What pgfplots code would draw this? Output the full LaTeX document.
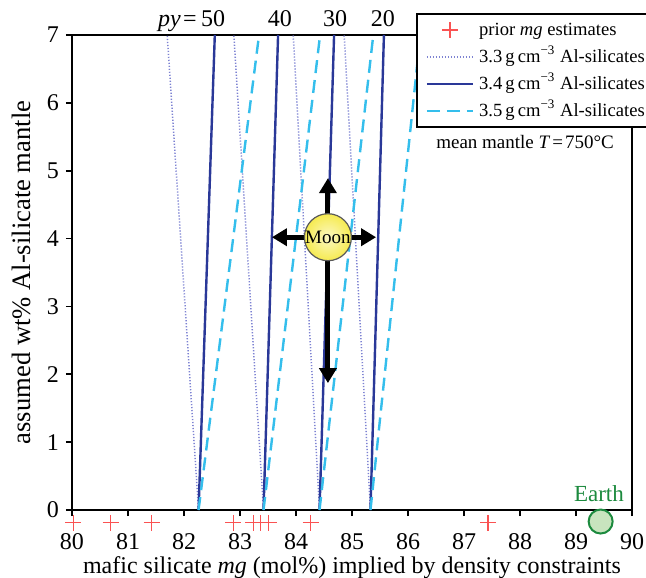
\documentclass[border=0pt]{standalone}
\usepackage{fontspec}
\setmainfont{Liberation Serif}
\usepackage{pgfplots}
\pgfplotsset{compat=1.18}
\usetikzlibrary{arrows.meta}

\definecolor{dotblue}{RGB}{125,130,210}
\definecolor{midblue}{RGB}{42,56,152}
\definecolor{dashcyan}{RGB}{52,190,236}
\definecolor{priorred}{RGB}{250,82,82}
\definecolor{earthgreen}{RGB}{28,138,62}
\definecolor{earthfill}{RGB}{200,228,190}
\definecolor{moonyellow}{RGB}{242,226,8}

\pgfdeclareradialshading{moonball}{\pgfpoint{0bp}{0bp}}{%
  color(0bp)=(white!75!moonyellow);
  color(14bp)=(moonyellow!50!white);
  color(34bp)=(moonyellow!88!white);
  color(50bp)=(moonyellow)}

% legend samples: a 23pt line, or a single mark in its middle
\pgfplotsset{
  lineimg/.style={legend image code/.code={%
    \draw[##1] (0pt,0pt) -- (23pt,0pt); \path (24pt,0pt);}},
  markimg/.style={legend image code/.code={%
    \draw[##1, mark repeat=2, mark phase=2] plot coordinates {(0pt,0pt) (11.5pt,0pt) (23pt,0pt)};
    \path (24pt,0pt);}},
}

\begin{document}
\begin{tikzpicture}
\path[use as bounding box] (-36pt,-33.5pt) rectangle (287pt,255pt);
\begin{axis}[
  at={(0,0)}, anchor=south west,
  scale only axis, width=280pt, height=237.5pt,
  xmin=80, xmax=90, ymin=0, ymax=7,
  clip=false,
  axis line style={line width=0.8pt},
  tick style={line width=0.8pt, black},
  major tick length=3pt,
  tick align=outside,
  xtick={80,81,...,90}, ytick={0,1,...,7},
  xtick pos=bottom, ytick pos=left,
  /pgf/number format/assume math mode=true,
  tick label style={font=\fontsize{12}{14}\selectfont},
  xticklabel style={yshift=-5pt},
  xlabel={mafic silicate \textit{mg} (mol\%) implied by density constraints},
  xlabel style={font=\fontsize{12}{14}\selectfont, yshift=3pt},
  ylabel={assumed wt\% Al-silicate mantle},
  ylabel style={font=\fontsize{13.3}{15}\selectfont, yshift=1pt},
  unbounded coords=jump,
  legend style={
    at={(0.614,1.046)}, anchor=north west,
    draw=black, line width=0.9pt, fill=white,
    font=\fontsize{9.3}{11}\selectfont,
    inner xsep=4.5pt, inner ysep=2pt,
    row sep=1.5pt,
    nodes={inner sep=1.5pt, text height=7pt, text depth=2pt},
  },
  legend cell align=left,
]

% prior estimates of mantle mg, plotted just below the axis line
\addplot[only marks, mark=+, mark size=4pt,
  mark options={line width=0.6pt, draw=priorred}, markimg]
  coordinates {(80.02,-0.19) (80.69,-0.19) (81.42,-0.19) (82.88,-0.19)
               (83.24,-0.19) (83.37,-0.19) (83.51,-0.19) (84.26,-0.19)
               (87.43,-0.19)};
\addlegendentry{prior \textit{mg} estimates}

% isopleths of pyroxene content (py = 50, 40, 30, 20) for three Al-silicate densities
\addplot[dotblue, line width=0.75pt, dash pattern=on 0.6pt off 0.9pt, lineimg]
  coordinates {(82.26,0) (81.70,7) (nan,nan)
               (83.42,0) (82.89,7) (nan,nan)
               (84.42,0) (83.95,7) (nan,nan)
               (85.33,0) (84.86,7)};
\addlegendentry{3.3\,g\,cm\textsuperscript{−3} Al-silicates}

\addplot[midblue, line width=1.2pt, lineimg]
  coordinates {(82.26,0) (82.55,7) (nan,nan)
               (83.42,0) (83.68,7) (nan,nan)
               (84.42,0) (84.68,7) (nan,nan)
               (85.33,0) (85.57,7)};
\addlegendentry{3.4\,g\,cm\textsuperscript{−3} Al-silicates}

\addplot[dashcyan, line width=1.2pt, dash pattern=on 6.5pt off 3.5pt, lineimg]
  coordinates {(82.26,0) (83.34,7) (nan,nan)
               (83.42,0) (84.43,7) (nan,nan)
               (84.42,0) (85.38,7) (nan,nan)
               (85.33,0) (86.22,7)};
\addlegendentry{3.5\,g\,cm\textsuperscript{−3} Al-silicates}

% Earth reference point
\addplot[only marks, mark=*, mark size=6pt,
  mark options={fill=earthfill, draw=earthgreen, line width=1pt}, forget plot]
  coordinates {(89.44,-0.17)};
\node[anchor=base, text=earthgreen, font=\fontsize{11.5}{13}\selectfont]
  at (axis cs:89.41,0.12) {Earth};

% py labels at the top of the 3.4 g/cm3 lines
\begin{scope}[font=\fontsize{12}{14}\selectfont]
  \node[anchor=base, inner sep=0pt] (p50) at (axis cs:82.52,7.12) {50};
  \node[anchor=base east, inner sep=0pt] at ([xshift=-1.8pt]p50.base west) {\textit{py}\kern1.2pt=};
  \node[anchor=base, inner sep=0pt] at (axis cs:83.71,7.12) {40};
  \node[anchor=base, inner sep=0pt] at (axis cs:84.70,7.12) {30};
  \node[anchor=base, inner sep=0pt] at (axis cs:85.55,7.12) {20};
\end{scope}

\node[font=\fontsize{9.5}{11}\selectfont] at (axis cs:88.09,5.42)
  {mean mantle \textit{T}\kern1pt=\kern1pt750°C};

% the Moon, with its uncertainty arrows
\begin{scope}[line width=2.5pt, black]
  \draw[-{Triangle[width=8.5pt,length=7.5pt]}] (axis cs:84.57,4.02) -- (axis cs:84.57,4.89);
  \draw[-{Triangle[width=8.5pt,length=7.5pt]}] (axis cs:84.57,4.02) -- (axis cs:84.57,1.87);
  \draw[-{Triangle[width=8.5pt,length=7.5pt]}] (axis cs:84.57,4.02) -- (axis cs:83.57,4.02);
  \draw[-{Triangle[width=8.5pt,length=7.5pt]}] (axis cs:84.57,4.02) -- (axis cs:85.43,4.02);
\end{scope}
\shadedraw[shading=moonball, draw=black!65, line width=0.6pt]
  (axis cs:84.57,4.02) circle[radius=11.75pt];
\node[font=\fontsize{9.5}{11}\selectfont, inner sep=0pt] at (axis cs:84.57,4.02) {Moon};

\end{axis}
\end{tikzpicture}
\end{document}
